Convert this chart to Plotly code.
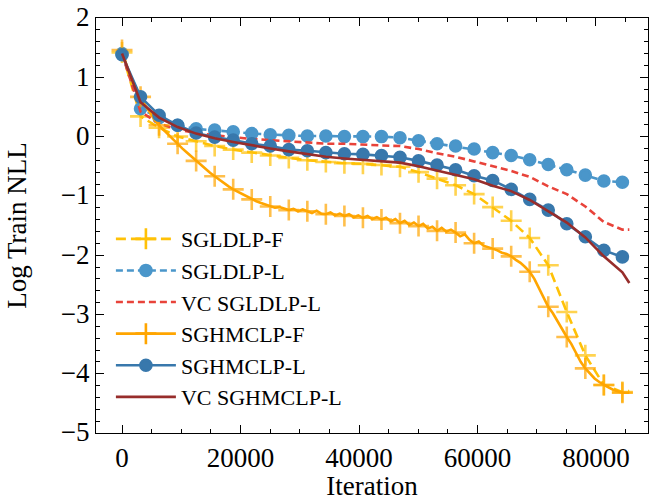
import plotly.graph_objects as go

# ---------------- data ----------------
STEP = 3128                     # iterations between plotted markers
END_ITER = 85629                # last logged iteration
marker_iters = [i * STEP for i in range(28)]
line_iters = marker_iters + [END_ITER]
dense_iters = [k * STEP / 4 for k in range(109)] + [END_ITER]

sgldlp_f = [1.42, 0.34, 0.15, 0.00, -0.08, -0.16, -0.22, -0.27, -0.32, -0.36,
            -0.40, -0.43, -0.45, -0.46, -0.48, -0.51, -0.60, -0.71, -0.82, -0.97,
            -1.19, -1.42, -1.71, -2.17, -2.96, -3.69, -4.19, -4.31, -4.29]

sgldlp_l = [1.40, 0.47, 0.32, 0.19, 0.13, 0.11, 0.08, 0.05, 0.03, 0.02,
            0.01, 0.01, 0.00, 0.00, 0.00, -0.02, -0.07, -0.12, -0.16, -0.21,
            -0.27, -0.32, -0.39, -0.47, -0.56, -0.65, -0.75, -0.77]

vc_sgldlp_l = [1.40, 0.42, 0.22, 0.12, 0.06, 0.02, -0.01, -0.04, -0.06, -0.08,
               -0.10, -0.12, -0.12, -0.14, -0.15, -0.16, -0.21, -0.28, -0.34, -0.42,
               -0.50, -0.58, -0.68, -0.84, -0.97, -1.18, -1.44, -1.57, -1.57]

sghmclp_f = [1.46, 1.20, 0.99, 0.82,
             0.67, 0.53, 0.40, 0.29,
             0.19, 0.11, 0.03, -0.05,
             -0.12, -0.20, -0.27, -0.34,
             -0.41, -0.48, -0.55, -0.61,
             -0.67, -0.73, -0.78, -0.84,
             -0.89, -0.93, -0.98, -1.02,
             -1.06, -1.09, -1.12, -1.15,
             -1.18, -1.20, -1.19, -1.22,
             -1.24, -1.22, -1.26, -1.23,
             -1.26, -1.29, -1.25, -1.30,
             -1.31, -1.28, -1.33, -1.30,
             -1.34, -1.31, -1.36, -1.33,
             -1.37, -1.34, -1.39, -1.36,
             -1.40, -1.37, -1.43, -1.39,
             -1.46, -1.42, -1.49, -1.45,
             -1.51, -1.47, -1.55, -1.52,
             -1.59, -1.54, -1.60, -1.57,
             -1.62, -1.68, -1.65, -1.74,
             -1.80, -1.77, -1.84, -1.86,
             -1.89, -1.92, -1.96, -1.98,
             -2.02, -2.08, -2.13, -2.20,
             -2.28, -2.40, -2.55, -2.72,
             -2.87, -2.98, -3.12, -3.25,
             -3.38, -3.50, -3.65, -3.80,
             -3.91, -4.00, -4.08, -4.14,
             -4.19, -4.23, -4.27, -4.30,
             -4.32,
             -4.32]

sghmclp_l = [1.38, 0.67, 0.36, 0.19, 0.06, -0.01, -0.06, -0.12, -0.16, -0.22,
             -0.24, -0.27, -0.29, -0.30, -0.32, -0.35, -0.41, -0.48, -0.56, -0.66,
             -0.74, -0.89, -1.06, -1.24, -1.47, -1.69, -1.92, -2.03]

vc_sghmclp_l = [1.40, 0.58, 0.32, 0.16, 0.05, -0.03, -0.09, -0.15, -0.20, -0.25,
                -0.30, -0.34, -0.37, -0.39, -0.41, -0.44, -0.50, -0.57, -0.64, -0.72,
                -0.83, -0.92, -1.07, -1.26, -1.45, -1.70, -2.02, -2.29, -2.47]

labels = ["SGLDLP-F", "SGLDLP-L", "VC SGLDLP-L", "SGHMCLP-F", "SGHMCLP-L", "VC SGHMCLP-L"]
x_ticks = [0, 20000, 40000, 60000, 80000]
y_ticks = [2, 1, 0, -1, -2, -3, -4, -5]

# ---------------- styles ----------------
C_YEL = "#FFC107"
C_ORA = "#FFA500"
C_LBLUE = "#4A96CA"
C_DBLUE = "#3878AC"
C_RED = "#E8433A"
C_DRED = "#972D2B"
LW = 2.6
FONT = "Liberation Serif"

fig = go.Figure()

def add(x, y, color, dash, symbol, msize, name, sizes=None):
    mode = "lines" if symbol is None else "lines+markers"
    marker = None
    if symbol is not None:
        marker = dict(symbol=symbol, size=sizes if sizes is not None else msize,
                      color=color, line=dict(color=color, width=2.6))
    fig.add_trace(go.Scatter(x=x, y=y, mode=mode, line=dict(color=color, width=LW, dash=dash),
                             marker=marker, showlegend=False, hoverinfo="skip"))
    # legend proxy
    fig.add_trace(go.Scatter(x=[None], y=[None], mode=mode, name=name,
                             line=dict(color=color, width=LW, dash=dash),
                             marker=None if symbol is None else dict(symbol=symbol, size=msize, color=color,
                                                                     line=dict(color=color, width=2.6))))

yel_sizes = [15] * len(marker_iters) + [0]
ora_sizes = [15 if k % 4 == 0 and k < 109 else 0 for k in range(len(dense_iters))]

add(line_iters, sgldlp_f, C_YEL, "10px,5px", "cross-thin", 15, labels[0], yel_sizes)
add(marker_iters, sgldlp_l, C_LBLUE, "7px,4px", "circle", 11, labels[1])
add(line_iters, vc_sgldlp_l, C_RED, "7px,4px", None, 0, labels[2])
add(dense_iters, sghmclp_f, C_ORA, "solid", "cross-thin", 15, labels[3], ora_sizes)
add(marker_iters, sghmclp_l, C_DBLUE, "solid", "circle", 11, labels[4])
add(line_iters, vc_sghmclp_l, C_DRED, "solid", None, 0, labels[5])

axis_common = dict(
    showline=True, linecolor="black", linewidth=1.2, mirror="allticks",
    ticks="inside", ticklen=8, tickwidth=1.2, tickcolor="black",
    showgrid=False, zeroline=False, automargin=False, ticklabeloverflow="allow",
    tickfont=dict(family=FONT, size=27, color="black"),
)

fig.update_xaxes(range=[-4390, 88780], tickvals=x_ticks, tickformat="d",
                 minor=dict(ticks="inside", ticklen=4, tickwidth=1, tickcolor="black", dtick=5000, tick0=0),
                 title=dict(text="Iteration", font=dict(family=FONT, size=27, color="black"), standoff=14),
                 **axis_common)
fig.update_yaxes(range=[-5, 2], tickvals=y_ticks, ticklabelshift=-1,
                 minor=dict(ticks="inside", ticklen=4, tickwidth=1, tickcolor="black", dtick=0.2, tick0=0),
                 title=dict(text="Log Train NLL", font=dict(family=FONT, size=27, color="black"), standoff=26),
                 **axis_common)

fig.update_layout(
    width=652, height=501,
    margin=dict(l=96, r=4, t=18, b=68),
    paper_bgcolor="white", plot_bgcolor="white",
    font=dict(family=FONT, size=24, color="black"),
    legend=dict(x=0.027, y=0.518, xanchor="left", yanchor="top",
                bgcolor="rgba(0,0,0,0)", font=dict(family=FONT, size=22, color="black"),
                itemwidth=60, tracegroupgap=0),
)

# remove the default page margin so the figure fills the window exactly
fig.write_html("out.html", config={"displayModeBar": False},
               post_script="document.body.style.margin='0';")
